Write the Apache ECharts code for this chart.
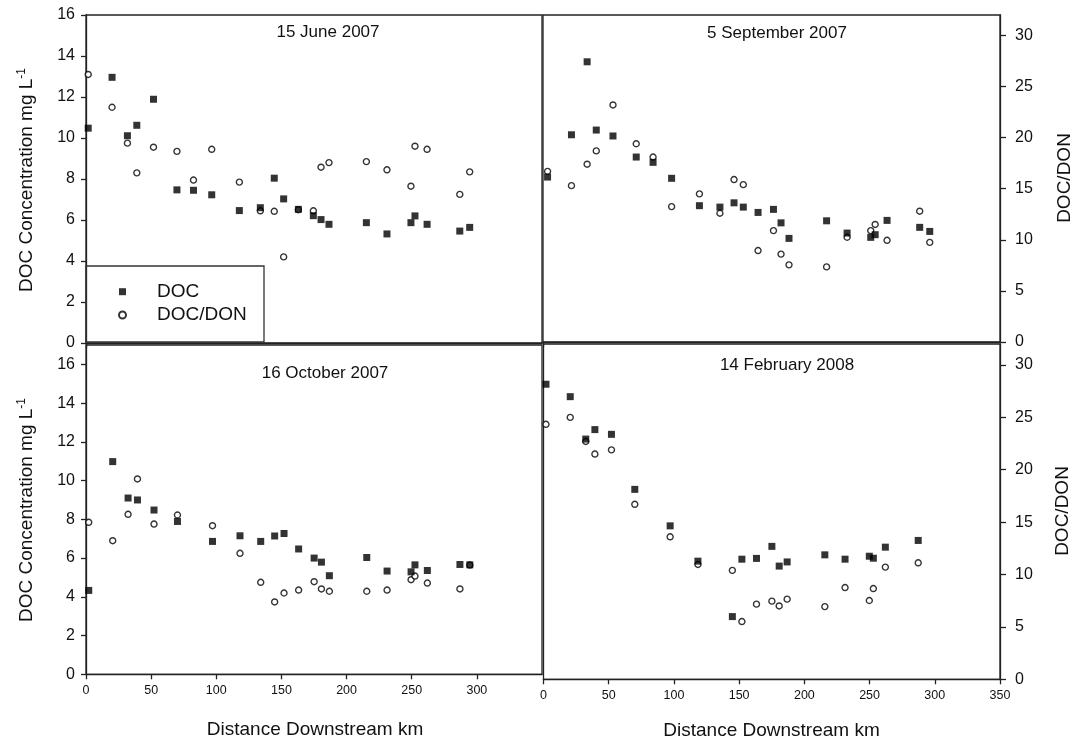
<!DOCTYPE html>
<html>
<head>
<meta charset="utf-8">
<script src="https://cdn.jsdelivr.net/npm/echarts@6/dist/echarts.min.js"></script>
<style>
html,body{margin:0;padding:0;background:#fff;}
#chart{width:1075px;height:746px;}
</style>
</head>
<body>
<div id="chart"></div>
<script>
// ---- Data ----
const panelTitles = ['15 June 2007', '5 September 2007', '16 October 2007', '14 February 2008'];
const xTickLabels = [0, 50, 100, 150, 200, 250, 300, 350];
const docTicks = [0, 2, 4, 6, 8, 10, 12, 14, 16];
const ratioTicks = [0, 5, 10, 15, 20, 25, 30];

// 15 June 2007
const junDist  = [1.7, 20, 31.8, 39, 51.8, 69.8, 82.5, 96.5, 117.7, 133.8, 144.5, 151.7, 163, 174.5, 180.4, 186.5, 215.2, 231, 249.4, 252.5, 261.8, 286.9, 294.5];
const junDoc   = [10.48, 12.96, 10.11, 10.62, 11.89, 7.47, 7.45, 7.23, 6.46, 6.60, 8.04, 7.03, 6.52, 6.21, 6.02, 5.79, 5.87, 5.32, 5.87, 6.20, 5.79, 5.46, 5.64];
const junRatio = [26.2, 23.0, 19.5, 16.6, 19.1, 18.7, 15.9, 18.9, 15.7, 12.9, 12.85, 8.4, 13.0, 12.9, 17.15, 17.6, 17.7, 16.9, 15.3, 19.2, 18.9, 14.5, 16.7];

// 5 September 2007
const sepDist  = [3.5, 21.8, 33.8, 40.8, 53.6, 71.4, 84.3, 98.5, 119.8, 135.5, 146.3, 153.4, 164.7, 176.5, 182.3, 188.4, 217.2, 232.9, 251, 254.4, 263.5, 288.5, 296.2];
const sepDoc   = [8.07, 10.14, 13.71, 10.37, 10.08, 9.05, 8.79, 8.01, 6.67, 6.60, 6.81, 6.60, 6.34, 6.49, 5.83, 5.07, 5.93, 5.33, 5.12, 5.25, 5.95, 5.61, 5.41];
const sepRatio = [16.7, 15.3, 17.4, 18.7, 23.2, 19.4, 18.1, 13.25, 14.5, 12.6, 15.9, 15.4, 8.95, 10.9, 8.6, 7.55, 7.35, 10.25, 10.9, 11.5, 9.95, 12.8, 9.75];

// 16 October 2007
const octDist  = [2.1, 20.5, 32.3, 39.5, 52.2, 70.2, 97.1, 118.2, 134.1, 144.8, 152, 163.2, 175.1, 180.7, 186.8, 215.5, 231.1, 249.5, 252.5, 262, 287, 294.6];
const octDoc   = [4.33, 10.98, 9.10, 9.00, 8.48, 7.89, 6.86, 7.15, 6.86, 7.14, 7.27, 6.47, 6.00, 5.79, 5.09, 6.03, 5.33, 5.29, 5.65, 5.36, 5.67, 5.65];
const octRatio = [14.77, 12.98, 15.55, 18.98, 14.6, 15.48, 14.44, 11.76, 8.94, 7.03, 7.90, 8.19, 9.0, 8.29, 8.07, 8.07, 8.19, 9.19, 9.55, 8.87, 8.29, 10.62];

// 14 February 2008
const febDist  = [1.9, 20.5, 32.4, 39.4, 52.1, 70, 97.1, 118.4, 144.8, 152.1, 163.3, 175.1, 180.7, 186.8, 215.7, 231.2, 249.8, 252.9, 262.1, 287.3];
const febDoc   = [14.96, 14.33, 12.18, 12.66, 12.42, 9.63, 7.78, 5.99, 3.18, 6.09, 6.13, 6.74, 5.74, 5.95, 6.31, 6.09, 6.24, 6.14, 6.70, 7.04];
const febRatio = [24.34, 25.0, 22.7, 21.5, 21.9, 16.7, 13.6, 10.96, 10.4, 5.51, 7.17, 7.46, 7.0, 7.65, 6.94, 8.76, 7.52, 8.66, 10.71, 11.12];

// ---- Chart ----
const FONT = '"Liberation Sans", Arial, sans-serif';
const chart = echarts.init(document.getElementById('chart'), null, {renderer: 'canvas'});

const panels = [
  {dist: junDist, doc: junDoc, ratio: junRatio, grid: {left: 86, top: 15, width: 456, height: 328}, docMax: 16, showX: false, showLeft: true, showRight: false, xTicks: [0]},
  {dist: sepDist, doc: sepDoc, ratio: sepRatio, grid: {left: 543, top: 15, width: 457, height: 327}, docMax: 16, showX: false, showLeft: false, showRight: true, xTicks: [0]},
  {dist: octDist, doc: octDoc, ratio: octRatio, grid: {left: 86, top: 345, width: 456, height: 329.3}, docMax: 17, showX: true, showLeft: true, showRight: false, xTicks: xTickLabels.slice(0, 7)},
  {dist: febDist, doc: febDoc, ratio: febRatio, grid: {left: 543.5, top: 344, width: 456.5, height: 335.3}, docMax: 17, showX: true, showLeft: false, showRight: true, xTicks: xTickLabels}
];

const pairs = (d, v) => d.map((x, i) => [x, v[i]]);
const lineStyle = {color: '#222', width: 1.3};

const grids = [], xAxes = [], yAxes = [], series = [];
panels.forEach((p, i) => {
  grids.push(Object.assign({show: true, borderColor: '#222', borderWidth: 1.3, backgroundColor: 'transparent'}, p.grid));
  xAxes.push({
    type: 'value', gridIndex: i, min: 0, max: 350,
    splitLine: {show: false},
    axisLine: {show: true, lineStyle: lineStyle},
    axisTick: {show: true, length: 5, lineStyle: lineStyle, customValues: p.xTicks},
    axisLabel: {show: p.showX, customValues: p.xTicks, margin: 10, fontSize: 12.5, color: '#111', fontFamily: FONT}
  });
  yAxes.push({
    type: 'value', gridIndex: i, position: 'left', min: 0, max: p.docMax,
    show: p.showLeft,
    splitLine: {show: false},
    axisLine: {show: true, lineStyle: lineStyle},
    axisTick: {show: true, length: 5, lineStyle: lineStyle, customValues: docTicks},
    axisLabel: {customValues: docTicks, margin: 11, fontSize: 16, color: '#111', fontFamily: FONT}
  });
  yAxes.push({
    type: 'value', gridIndex: i, position: 'right', min: 0, max: 32,
    show: p.showRight,
    splitLine: {show: false},
    axisLine: {show: true, lineStyle: lineStyle},
    axisTick: {show: true, length: 6, lineStyle: lineStyle, customValues: ratioTicks},
    axisLabel: {customValues: ratioTicks, margin: 15, fontSize: 16, color: '#111', fontFamily: FONT}
  });
  series.push({
    type: 'scatter', name: 'DOC/DON', xAxisIndex: i, yAxisIndex: 2 * i + 1,
    data: pairs(p.dist, p.ratio), symbol: 'circle', symbolSize: 6,
    itemStyle: {color: '#fff', borderColor: '#000', borderWidth: 1.4}, z: 3
  });
  series.push({
    type: 'scatter', name: 'DOC', xAxisIndex: i, yAxisIndex: 2 * i,
    data: pairs(p.dist, p.doc), symbol: 'rect', symbolSize: 7,
    itemStyle: {color: '#000'}, z: 4
  });
});

const titleStyle = {fontSize: 17, fontFamily: FONT, fill: '#111', align: 'center', verticalAlign: 'middle'};
const axisTitleStyle = {fontSize: 19, fontFamily: FONT, fill: '#111', align: 'center', verticalAlign: 'middle'};
const titlePos = [[328, 32], [777, 33], [325, 373], [787, 365]];

const graphic = [];
panelTitles.forEach((t, i) => {
  graphic.push({type: 'text', x: titlePos[i][0], y: titlePos[i][1], style: Object.assign({text: t}, titleStyle), z: 10});
});
graphic.push({type: 'text', x: 315, y: 730, style: Object.assign({text: 'Distance Downstream km'}, axisTitleStyle), z: 10});
graphic.push({type: 'text', x: 771.5, y: 731, style: Object.assign({text: 'Distance Downstream km'}, axisTitleStyle), z: 10});
const docTitle = {
  text: 'DOC Concentration mg L{sup|-1}',
  rich: {sup: {fontSize: 12, fontFamily: FONT, fill: '#111', verticalAlign: 'top', lineHeight: 12}},
  lineHeight: 22
};
graphic.push({type: 'text', x: 27, y: 180, rotation: Math.PI / 2, style: Object.assign({}, axisTitleStyle, docTitle), z: 10});
graphic.push({type: 'text', x: 27, y: 510, rotation: Math.PI / 2, style: Object.assign({}, axisTitleStyle, docTitle), z: 10});
graphic.push({type: 'text', x: 1065, y: 178, rotation: Math.PI / 2, style: Object.assign({text: 'DOC/DON'}, axisTitleStyle), z: 10});
graphic.push({type: 'text', x: 1063, y: 511, rotation: Math.PI / 2, style: Object.assign({text: 'DOC/DON'}, axisTitleStyle), z: 10});
// legend box
graphic.push({type: 'rect', shape: {x: 86, y: 266, width: 178, height: 76}, style: {fill: 'none', stroke: '#333', lineWidth: 1.3}, z: 10});

chart.setOption({
  animation: false,
  backgroundColor: '#fff',
  grid: grids,
  xAxis: xAxes,
  yAxis: yAxes,
  series: series,
  legend: {
    data: [{name: 'DOC', icon: 'rect'}, {name: 'DOC/DON', icon: 'circle'}],
    orient: 'vertical', left: 118, top: 281.7, padding: 0,
    itemWidth: 7, itemHeight: 7, itemGap: 3.3,
    selectedMode: false,
    textStyle: {fontSize: 19, fontFamily: FONT, color: '#111', padding: [0, 0, 0, 26], lineHeight: 20}
  },
  graphic: graphic
});
</script>
</body>
</html>
